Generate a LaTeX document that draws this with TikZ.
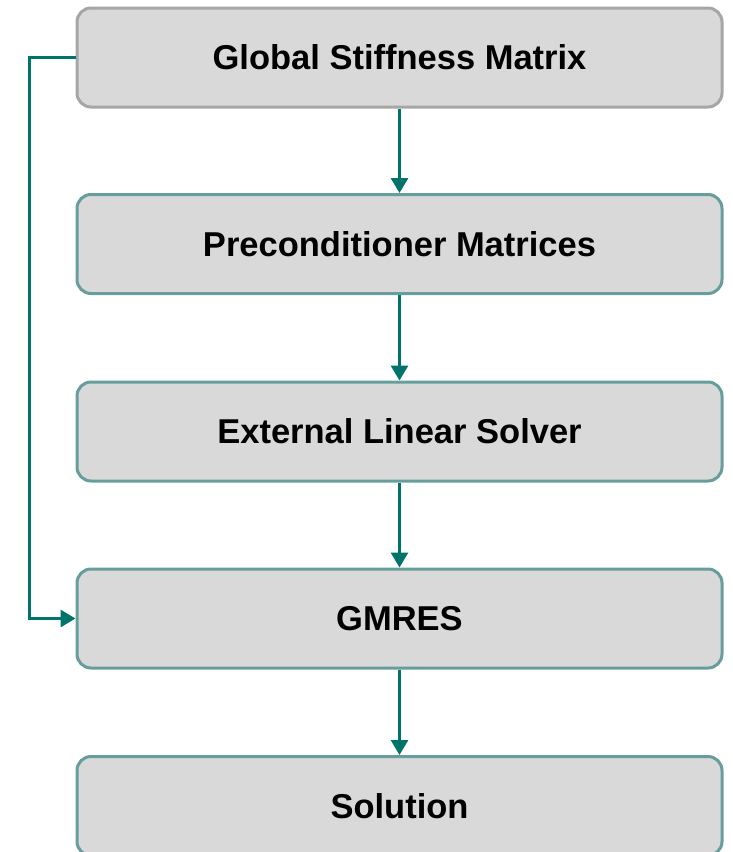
\documentclass[tikz,border=0pt]{standalone}
\usepackage{fontspec}
\setmainfont{Liberation Sans}
\usetikzlibrary{arrows.meta}
\definecolor{boxfill}{HTML}{D9D9D9}
\definecolor{grayedge}{HTML}{A6A6A6}
\definecolor{tealedge}{HTML}{669E9B}
\definecolor{arrowteal}{HTML}{00736A}
\begin{document}
\begin{tikzpicture}[x=1pt,y=-1pt,
  stepbox/.style={draw=tealedge, line width=3pt, fill=boxfill, rounded corners=14pt,
    minimum width=645pt, minimum height=99pt, inner sep=0pt, anchor=center,
    font=\fontsize{34.5}{40}\selectfont\bfseries, text=black},
  conn/.style={draw=arrowteal, line width=3pt, -{Triangle[length=15pt,width=17pt]}}]
\useasboundingbox (0,0) rectangle (733,852);
\node[stepbox, draw=grayedge] (gsm) at (399.5,57.5) {Global Stiffness Matrix};
\node[stepbox] (pre) at (399.5,244) {Preconditioner Matrices};
\node[stepbox] (ext) at (399.5,431.5) {External Linear Solver};
\node[stepbox] (gm) at (399.5,618.5) {GMRES};
\node[stepbox] (sol) at (399.5,806) {Solution};
\draw[conn] (gsm) -- (pre);
\draw[conn] (pre) -- (ext);
\draw[conn] (ext) -- (gm);
\draw[conn] (gm) -- (sol);
\draw[conn] (gsm.west) -- (29,57.5) |- (gm.west);
\end{tikzpicture}
\end{document}
